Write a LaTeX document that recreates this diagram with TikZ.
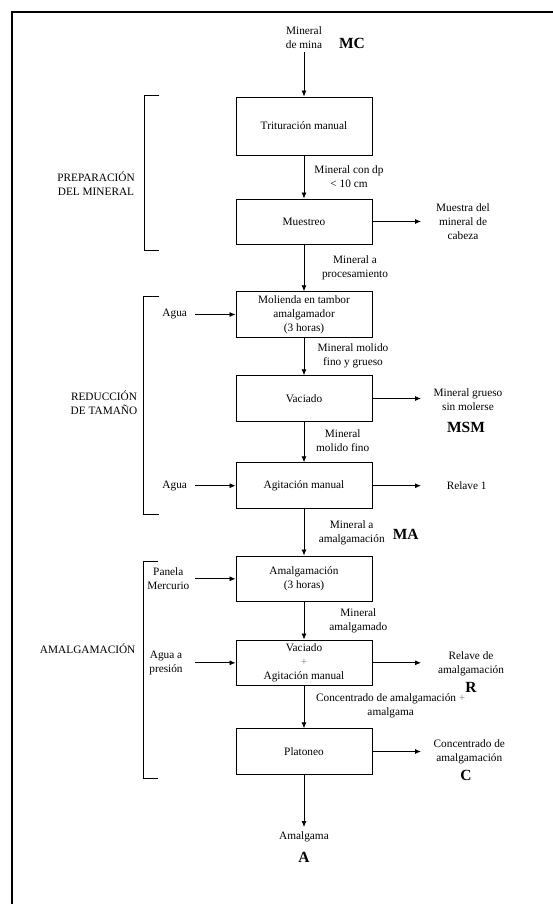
\documentclass[tikz,border=0pt]{standalone}
\usepackage{fontspec}
\setmainfont{Liberation Serif}
\usetikzlibrary{arrows.meta}
\begin{document}
\begin{tikzpicture}[x=1pt,y=-1pt,
  every node/.style={font=\fontsize{11.3}{14}\selectfont,inner sep=1pt,align=center},
  procbox/.style={draw,line width=0.9pt,minimum width=136pt,inner sep=2pt},
  arr/.style={line width=0.8pt,-{Latex[length=6pt,width=5pt]}},
  brk/.style={line width=0.9pt},
  tag/.style={font=\fontsize{15.5}{18}\selectfont\bfseries},
  plus/.style={text=gray}]
\useasboundingbox (0,0) rectangle (552,904);
\draw[line width=1.8pt] (12,910) -- (12,12) -- (560,12);

% process boxes
\node[procbox,minimum height=58pt] (b1) at (304,126) {Trituración manual};
\node[procbox,minimum height=45pt] (b2) at (304,221.5) {Muestreo};
\node[procbox,minimum height=45.6pt] (b3) at (304,314.5) {Molienda en tambor\\amalgamador\\(3 horas)};
\node[procbox,minimum height=45.6pt] (b4) at (304,398.5) {Vaciado};
\node[procbox,minimum height=46pt] (b5) at (304,485.7) {Agitación manual};
\node[procbox,minimum height=45.7pt] (b6) at (304,578.8) {Amalgamación\\(3 horas)};
\node[procbox,minimum height=45.7pt] (b7) at (304,662.8) {Vaciado\\\textcolor{gray}{+}\\Agitación manual};
\node[procbox,minimum height=45.6pt] (b8) at (304,751.5) {Platoneo};

% top input
\node (mm) at (304,38) {Mineral\\de mina};
\node[tag] (mc) at (352,43) {MC};
\coordinate (mmend) at (304,52);
\draw[arr] (mmend) -- (b1);

% vertical flows and labels
\draw[arr] (b1) -- (b2);
\node (l12) at (349,177) {Mineral con dp\\< 10 cm};
\draw[arr] (b2) -- (b3);
\node (l23) at (355,268) {Mineral a\\procesamiento};
\draw[arr] (b3) -- (b4);
\node (l34) at (353,355.3) {Mineral molido\\fino y grueso};
\draw[arr] (b4) -- (b5);
\node (l45) at (342.7,440.5) {Mineral\\molido fino};
\draw[arr] (b5) -- (b6);
\node (l56) at (351.7,532.3) {Mineral a\\amalgamación};
\node[tag] (ma) at (405.7,534) {MA};
\draw[arr] (b6) -- (b7);
\node (l67) at (358.3,620.3) {Mineral\\amalgamado};
\draw[arr] (b7) -- (b8);
\node (l78) at (390.7,705.8) {Concentrado de amalgamación \textcolor{gray}{+}\\amalgama};
\coordinate (aend) at (304,827);
\draw[arr] (b8) -- (aend);
\node (am) at (304,836.7) {Amalgama};
\node[tag] (ta) at (304,857) {A};

% outputs on the right
\coordinate (o2) at (421,221.5);
\draw[arr] (b2.east) -- (o2);
\node (out2) at (463,222) {Muestra del\\mineral de\\cabeza};
\coordinate (o4) at (421,398.5);
\draw[arr] (b4.east) -- (o4);
\node (out4) at (468,399.3) {Mineral grueso\\sin molerse};
\node[tag] (msm) at (466,427) {MSM};
\coordinate (o5) at (421,485.7);
\draw[arr] (b5.east) -- (o5);
\node (out5) at (466.7,485.5) {Relave 1};
\coordinate (o7) at (421,662.8);
\draw[arr] (b7.east) -- (o7);
\node (out7) at (471,663.3) {Relave de\\amalgamación};
\node[tag] (tr) at (471,687) {R};
\coordinate (o8) at (421,751.5);
\draw[arr] (b8.east) -- (o8);
\node (out8) at (469.3,752) {Concentrado de\\amalgamación};
\node[tag] (tc) at (466,775.5) {C};

% inputs on the left
\node (in3) at (174.7,314.3) {Agua};
\coordinate (i3) at (195,314.5);
\draw[arr] (i3) -- (b3.west);
\node (in5) at (174.7,485.5) {Agua};
\coordinate (i5) at (195,485.7);
\draw[arr] (i5) -- (b5.west);
\node (in6) at (168.3,578.3) {Panela\\Mercurio};
\coordinate (i6) at (195,578.8);
\draw[arr] (i6) -- (b6.west);
\node (in7) at (166,662.8) {Agua a\\presión};
\coordinate (i7) at (195,662.8);
\draw[arr] (i7) -- (b7.west);

% brackets and stage labels
\draw[brk] (159,95) -- (144.7,95) -- (144.7,250) -- (159,250);
\node (s1) at (96,184) {PREPARACIÓN\\DEL MINERAL};
\draw[brk] (158.7,296.7) -- (143.7,296.7) -- (143.7,514.3) -- (158.7,514.3);
\node (s2) at (104,402.3) {REDUCCIÓN\\DE TAMAÑO};
\draw[brk] (157.7,561.7) -- (143.7,561.7) -- (143.7,778.7) -- (157.7,778.7);
\node (s3) at (87.7,649) {AMALGAMACIÓN};
\end{tikzpicture}
\end{document}
